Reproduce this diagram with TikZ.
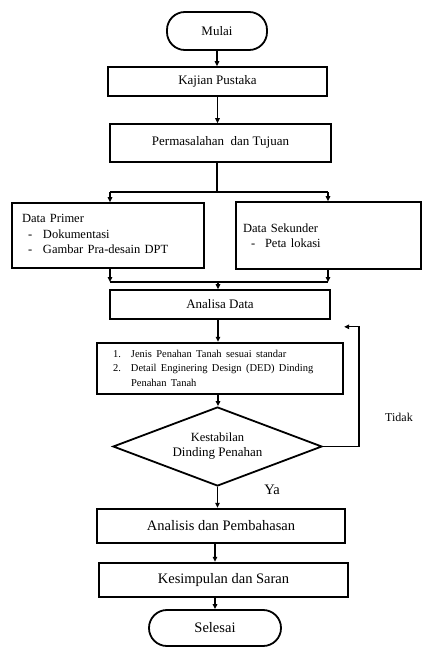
\documentclass[tikz,border=0pt]{standalone}
\usepackage{fontspec}
\setmainfont{Liberation Serif}
\usetikzlibrary{shapes.geometric,arrows.meta}
\begin{document}
\begin{tikzpicture}[x=1pt,y=-1pt,
  font=\fontsize{13}{15}\selectfont,
  box/.style={draw, line width=1.7pt, rectangle, inner sep=0pt},
  boxthick/.style={box, line width=2.4pt},
  term/.style={draw, line width=1.8pt, rectangle, rounded corners=17.9pt, inner sep=0pt},
  bigtext/.style={font=\fontsize{14.5}{17}\selectfont},
  conn/.style={line width=1.3pt},
  arr/.style={line width=1.3pt, -{Triangle[length=5pt,width=4.5pt]}}]
\useasboundingbox (0,0) rectangle (423,648);

\node[term, minimum width=100, minimum height=38] (mulai) at (217,31) {Mulai};
\node[box, minimum width=219, minimum height=29] (kajian) at (217.5,81.5) {Kajian Pustaka};
\node[box, minimum width=221, minimum height=38] (perm) at (220.5,143) {\raisebox{4pt}{Permasalahan\ \ dan Tujuan}};

\node[box, minimum width=192, minimum height=65, text width=172, align=left] (prim) at (108,235.5)
  {\fontsize{12.5}{16.5}\selectfont\raisebox{3pt}{Data Primer}\\
   \raisebox{3pt}{\hspace*{6pt}\makebox[15pt][l]{-}Dokumentasi}\\
   \raisebox{3pt}{\hspace*{6pt}\makebox[15pt][l]{-}Gambar Pra-desain DPT}};
\node[box, minimum width=185, minimum height=67, text width=171, align=left] (sek) at (328.5,235.5)
  {\fontsize{12.5}{15}\selectfont Data Sekunder\\
   \hspace*{8pt}\makebox[14pt][l]{-}Peta lokasi};

\node[box, minimum width=220, minimum height=29] (analisa) at (220,304.5) {Analisa Data};

\node[boxthick, minimum width=246, minimum height=51, text width=230, align=left] (list) at (220,368.5)
  {\fontsize{10.5}{14.5}\selectfont
   \hspace*{8pt}\makebox[18pt][l]{1.}Jenis Penahan Tanah sesuai standar\\
   \hspace*{8pt}\makebox[18pt][l]{2.}Detail Enginering Design (DED) Dinding\\
   \hspace*{26pt}Penahan Tanah};

\node[diamond, draw, line width=1.8pt, minimum width=209, minimum height=79, inner sep=0pt,
  shape aspect=2.6, align=center] (dia) at (217.5,446.5)
  {\fontsize{12.5}{14}\selectfont Kestabilan\\Dinding Penahan};

\node[boxthick, bigtext, minimum width=248, minimum height=34] (analisis) at (221,526) {Analisis dan Pembahasan};
\node[boxthick, bigtext, minimum width=249, minimum height=34] (kesim) at (223.5,580) {Kesimpulan dan Saran};
\node[term, bigtext, minimum width=132, minimum height=36] (selesai) at (215,628) {Selesai};

\node[font=\fontsize{12}{14}\selectfont] (tidak) at (399,417) {Tidak};
\node[bigtext] (ya) at (272,490) {Ya};

% connectors
\draw[arr] (mulai.south) -- (mulai.south |- kajian.north);
\draw[arr] (kajian.south) -- (kajian.south |- perm.north);

\coordinate (split) at (217,192);
\coordinate (splitL) at (110,192);
\coordinate (splitR) at (328,192);
\draw[conn] (perm.south -| split) -- (split);
\draw[conn] (splitL) -- (splitR);
\draw[arr] (splitL) -- (splitL |- prim.north);
\draw[arr] (splitR) -- (splitR |- sek.north);

\coordinate (joinL) at (110,282);
\coordinate (joinR) at (328,282);
\coordinate (join) at (218,282);
\draw[arr] (joinL |- prim.south) -- (joinL);
\draw[arr] (joinR |- sek.south) -- (joinR);
\draw[conn] (joinL) -- (joinR);
\draw[arr] (join) -- (join |- analisa.north);

\draw[arr] (analisa.south -| join) -- (join |- list.north);
\draw[arr] (list.south -| join) -- (join |- dia.north);

\coordinate (fb) at (359,446.5);
\coordinate (fbin) at ([yshift=15pt]list.north east);
\draw[conn] (dia.east) -- (fb);
\draw[arr] (fb) |- (fbin);

\coordinate (col) at (215,0);
\draw[arr] (dia.south) -- (dia.south |- analisis.north);
\draw[arr] (analisis.south -| col) -- (col |- kesim.north);
\draw[arr] (kesim.south -| col) -- (col |- selesai.north);
\end{tikzpicture}
\end{document}
